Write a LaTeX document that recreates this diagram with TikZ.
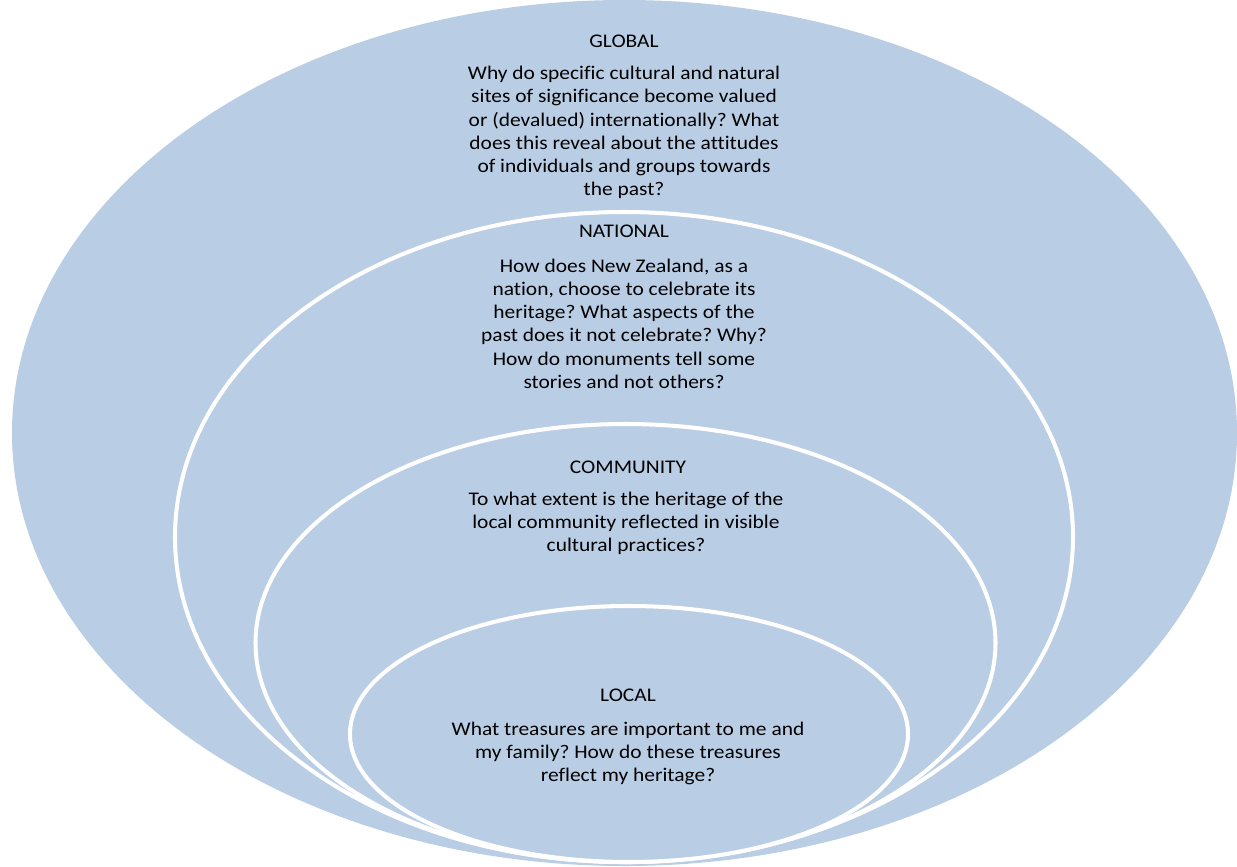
\documentclass[tikz,border=0pt]{standalone}
\usepackage{fontspec}
\setmainfont{Carlito}[FakeStretch=1.11, Ligatures=NoCommon]
\usetikzlibrary{positioning}
\definecolor{ringblue}{RGB}{185,205,229}
\frenchspacing

\begin{document}
\begin{tikzpicture}[
        x=0.02cm,
        y=-0.02cm,
        ring/.style={fill=ringblue, draw=white, line width=2.3pt},
        levelname/.style={font=\fontsize{11}{13.2}\selectfont, inner sep=0pt, anchor=base},
        question/.style={font=\fontsize{11}{13.2}\selectfont, inner sep=0pt, align=center, anchor=north}
    ]
        \useasboundingbox (0,0) rectangle (1237,866);

        \coordinate (G) at (624.5,433);
        \coordinate (N) at (624,537);
        \coordinate (C) at (625.5,643);
        \coordinate (L) at (629,734);

        \fill[ringblue] (G) ellipse [x radius=612.5, y radius=433];
        \draw[ring] (N) ellipse [x radius=449, y radius=325];
        \draw[ring] (C) ellipse [x radius=370, y radius=219];
        \draw[ring] (L) ellipse [x radius=279, y radius=128];

        % global
        \node[levelname] (global) at (624,47) {GLOBAL};
        \node[question] (globalq) at (624,66) {Why do specific cultural and natural\\
            sites of significance become valued\\
            or (devalued) internationally? What\\
            does this reveal about the attitudes\\
            of individuals and groups towards\\
            the past?};

        % national
        \node[levelname] (national) at (624,237) {NATIONAL};
        \node[question] (nationalq) at (624,258.5) {How does New Zealand, as a\\
            nation, choose to celebrate its\\
            heritage? What aspects of the\\
            past does it not celebrate? Why?\\
            How do monuments tell some\\
            stories and not others?};

        % community
        \node[levelname] (community) at (628,473) {COMMUNITY};
        \node[question] (communityq) at (626,491.5) {To what extent is the heritage of the\\
            local community reflected in visible\\
            cultural practices?};

        % local
        \node[levelname] (local) at (628,701) {LOCAL};
        \node[question] (localq) at (628,721.5) {What treasures are important to me and\\
            my family? How do these treasures\\
            reflect my heritage?};
    \end{tikzpicture}
\end{document}
